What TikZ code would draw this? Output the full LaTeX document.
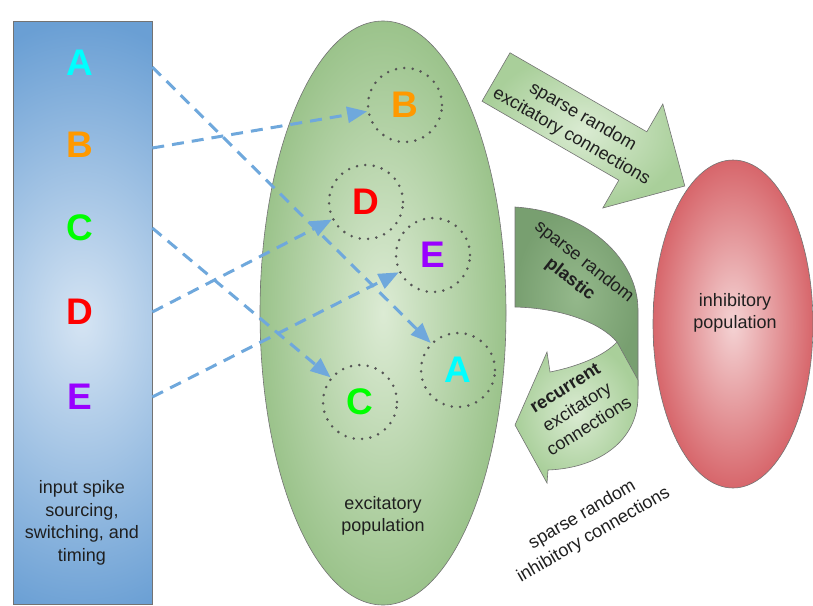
\documentclass[tikz,border=0pt]{standalone}
\usepackage{fontspec}
\setmainfont{Liberation Sans}
\usetikzlibrary{arrows.meta,shapes.geometric,positioning}
\definecolor{feedblue}{HTML}{6FA8DC}
\definecolor{dotgrey}{HTML}{555555}
\definecolor{inblueout}{HTML}{6A9FD4}
\definecolor{inbluein}{HTML}{D5E4F3}
\definecolor{excout}{HTML}{9BC38B}
\definecolor{excin}{HTML}{DCEBD4}
\definecolor{inhout}{HTML}{D7666B}
\definecolor{inhin}{HTML}{F4D3D4}
\definecolor{arrout}{HTML}{A9CF9A}
\definecolor{arrin}{HTML}{DAEBD2}
\definecolor{plasout}{HTML}{789F70}
\definecolor{plasin}{HTML}{94B88B}
\definecolor{spikeA}{HTML}{00FFFF}
\definecolor{spikeB}{HTML}{FF9900}
\definecolor{spikeC}{HTML}{00FF00}
\definecolor{spikeD}{HTML}{FF0000}
\definecolor{spikeE}{HTML}{9900FF}

\begin{document}
\begin{tikzpicture}[x=1pt,y=-1pt]
                \tikzstyle{every node}+=[inner sep=0pt]
                \tikzstyle{lbl}=[font=\fontsize{18}{22.5}\selectfont, align=center, text=black!88]
                \tikzstyle{spike}=[font=\fontsize{37}{40}\selectfont\bfseries]
                \tikzstyle{group}=[circle, minimum size=74pt, draw=dotgrey, line width=2.8pt, dash pattern=on 0pt off 8.4pt, line cap=round, spike]
                \tikzstyle{feed}=[draw=feedblue, line width=3pt, dash pattern=on 12pt off 8pt, -{Triangle[length=20pt,width=16pt]}]
                \tikzstyle{outline}=[draw=black!55, line width=0.6pt]
                \useasboundingbox (0,0) rectangle (813,605);
                % populations
                \begin{scope}
                \clip (13,21) rectangle (152,604);
                \shade [inner color=inbluein, outer color=inblueout] (-118,21) rectangle (282,623);
                \end{scope}
                \node [outline, minimum width=139pt, minimum height=583pt] (inbox) at (82.5,312.5) {};
                \node [outline, shade, inner color=excin, outer color=excout, ellipse, minimum width=246pt, minimum height=584pt] (excit) at (383,313) {};
                \node [outline, shade, inner color=inhin, outer color=inhout, ellipse, minimum width=160pt, minimum height=328pt] (inhib) at (733,324) {};
                % block arrows
                \shadedraw [outline, inner color=arrin, outer color=arrout] (510,52.8) -- (646.8,131.8) -- (662.8,104) -- (684.8,186) -- (602.8,208) -- (618.8,180.2) -- (482,101.2) -- cycle;
                \shadedraw [outline, inner color=plasin, outer color=plasout] (515,207) .. controls (592,212) and (638,262) .. (638,310) -- (638,385) -- (617,342) .. controls (600,322) and (560,308) .. (515,307) -- cycle;
                \shadedraw [outline, inner color=arrin, outer color=arrout] (515,425) -- (547,352) -- (550,372) .. controls (580,366) and (605,355) .. (617,342) -- (638,380) -- (638,398) .. controls (637,440) and (600,468) .. (548,470) -- (547,483) -- cycle;
                % input spikes
                \node [spike, text=spikeA] (srcA) at (80,63) {A};
                \node [spike, text=spikeB] (srcB) at (80,145) {B};
                \node [spike, text=spikeC] (srcC) at (80,228) {C};
                \node [spike, text=spikeD] (srcD) at (80,312) {D};
                \node [spike, text=spikeE] (srcE) at (80,397) {E};
                % excitatory groups
                \node [group, text=spikeB] (popB) at (405,105) {B};
                \node [group, text=spikeD] (popD) at (366,202) {D};
                \node [group, text=spikeE] (popE) at (433,255) {E};
                \node [group, text=spikeA] (popA) at (458,370) {A};
                \node [group, text=spikeC] (popC) at (360,402) {C};
                % input connections
                \draw [feed] (srcA -| inbox.east) ++(0,4) -- (popA);
                \draw [feed] (srcB -| inbox.east) ++(0,3) -- (popB);
                \draw [feed] (srcC -| inbox.east) -- (popC);
                \draw [feed] (srcD -| inbox.east) -- (popD);
                \draw [feed] (srcE -| inbox.east) -- (popE);
                % labels
                \node [lbl] (inlbl) at (82,523) {input spike\\sourcing,\\switching, and\\timing};
                \node [lbl] (exclbl) at (383,516) {excitatory\\population};
                \node [lbl] (inhlbl) at (735,313) {inhibitory\\population};
                \node [lbl, rotate=-30] (e2ilbl) at (577,127) {sparse random\\excitatory connections};
                \node [lbl, rotate=-38] (plaslbl) at (577,271) {sparse random\\\textbf{plastic}};
                \node [lbl, rotate=32] (reclbl) at (577,407) {\textbf{recurrent}\\excitatory\\connections};
                \node [lbl, rotate=30] (i2elbl) at (588,525) {sparse random\\inhibitory connections};
            \end{tikzpicture}
\end{document}
